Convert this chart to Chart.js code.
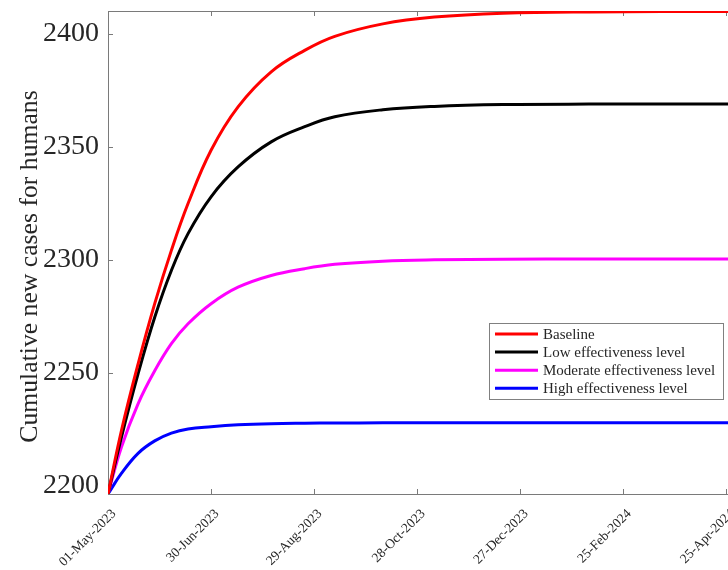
<!DOCTYPE html>
<html>
<head>
<meta charset="utf-8">
<script src="https://cdn.jsdelivr.net/npm/chart.js@4"></script>
<style>
html,body{margin:0;padding:0;background:#fff;overflow:hidden;width:728px;height:570px;}
#wrap{width:745px;height:570px;}
</style>
</head>
<body>
<div id="wrap"><canvas id="c" width="745" height="570"></canvas></div>
<script>
// Days since 01-May-2023 (read positions)
const days = [0,7.8,17.5,27.2,36.9,46.6,60,75.7,95,114.5,132,160,190,230,280,365];
const baseline = [2196.5,2224.5,2254,2280.7,2304.3,2325,2348.6,2367.8,2383.3,2392.8,2399,2404.5,2407.5,2409.2,2409.8,2410];
const lowLevel = [2196.5,2221.6,2249.7,2274.7,2295.4,2311.7,2328,2341.2,2352.3,2359,2363.4,2366.5,2368,2368.8,2369,2369];
const moderateLevel = [2196.5,2217.2,2236.4,2251,2263,2271.8,2280.7,2288,2293.2,2296.2,2298.1,2299.5,2300.1,2300.4,2300.5,2300.5];
const highLevel = [2196.5,2205.6,2214.5,2220,2223.4,2225.3,2226.3,2227.1,2227.6,2227.8,2227.9,2228,2228,2228,2228,2228];
const seriesNames = ['Baseline','Low effectiveness level','Moderate effectiveness level','High effectiveness level'];
const xTickDays = [0,60,120,180,240,300,360];
const xTickLabels = ['01-May-2023','30-Jun-2023','29-Aug-2023','28-Oct-2023','27-Dec-2023','25-Feb-2024','25-Apr-2024'];
const yTicks = [2200,2250,2300,2350,2400];
const yTitle = 'Cumulative new cases for humans';

const toXY = arr => arr.map((v,i)=>({x:days[i], y:v}));
const colors = ['#ff0000','#000000','#ff00ff','#0000ff'];
const allSeries = [baseline, lowLevel, moderateLevel, highLevel];
const FONT = "'Liberation Serif', 'Times New Roman', serif";
const TXT = '#262626';

const framePlugin = {
  id:'frame',
  beforeDatasetsDraw(chart){
    const {ctx, chartArea:a, scales:{x,y}} = chart;
    ctx.save();
    ctx.strokeStyle='#7a7a7a'; ctx.lineWidth=1;
    ctx.strokeRect(Math.round(a.left)+0.5, Math.round(a.top)+0.5, Math.round(a.right-a.left), Math.round(a.bottom-a.top));
    ctx.beginPath();
    x.ticks.forEach(t=>{
      const px=Math.round(x.getPixelForValue(t.value))+0.5;
      ctx.moveTo(px,a.bottom); ctx.lineTo(px,a.bottom-5);
      ctx.moveTo(px,a.top); ctx.lineTo(px,a.top+5);
    });
    y.ticks.forEach(t=>{
      const py=Math.round(y.getPixelForValue(t.value))+0.5;
      ctx.moveTo(a.left,py); ctx.lineTo(a.left+5,py);
      ctx.moveTo(a.right,py); ctx.lineTo(a.right-5,py);
    });
    ctx.stroke();
    // y axis title
    ctx.fillStyle=TXT; ctx.font='25.7px '+FONT;
    ctx.textAlign='center'; ctx.textBaseline='middle';
    ctx.translate(30, (a.top+a.bottom)/2+14);
    ctx.rotate(-Math.PI/2);
    ctx.fillText(yTitle,0,0);
    ctx.restore();
  }
};

const legendPlugin = {
  id:'boxLegend',
  afterDatasetsDraw(chart){
    const {ctx, chartArea:a} = chart;
    const bx=a.left+381, by=a.top+312, bw=234, bh=76;
    ctx.save();
    ctx.fillStyle='#fff'; ctx.fillRect(bx,by,bw,bh);
    ctx.strokeStyle='#808080'; ctx.lineWidth=1;
    ctx.strokeRect(bx+0.5,by+0.5,bw,bh);
    ctx.font='15px '+FONT; ctx.textBaseline='middle'; ctx.textAlign='left';
    seriesNames.forEach((name,i)=>{
      const cy=by+11+i*18.1;
      ctx.strokeStyle=colors[i]; ctx.lineWidth=3;
      ctx.beginPath(); ctx.moveTo(bx+6,cy); ctx.lineTo(bx+49,cy); ctx.stroke();
      ctx.fillStyle=TXT; ctx.fillText(name,bx+54,cy+1);
    });
    ctx.restore();
  }
};

new Chart(document.getElementById('c'),{
  type:'line',
  data:{datasets: allSeries.map((s,i)=>({
    label:seriesNames[i], data:toXY(s), borderColor:colors[i], backgroundColor:colors[i],
    borderWidth:3, pointRadius:0, tension:0.4, fill:false
  }))},
  options:{
    responsive:false, animation:false,
    layout:{padding:{left:0,top:11,right:10,bottom:0}},
    plugins:{legend:{display:false}, tooltip:{enabled:false}},
    scales:{
      x:{type:'linear', min:0, max:365,
        grid:{display:false}, border:{display:false},
        afterBuildTicks:s=>{s.ticks = xTickDays.map(v=>({value:v}));},
        afterFit:s=>{s.height=76; s.paddingLeft=0; s.paddingRight=0;},
        ticks:{autoSkip:false, minRotation:45, maxRotation:45, padding:4, labelOffset:6, color:TXT,
          font:{family:FONT,size:13.5},
          callback:(v)=>{const k=xTickDays.indexOf(v); return k>=0?xTickLabels[k]:'';}}
      },
      y:{type:'linear', min:2196.5, max:2410.2,
        grid:{display:false}, border:{display:false},
        afterBuildTicks:s=>{s.ticks = yTicks.map(v=>({value:v}));},
        afterFit:s=>{s.width=108; s.paddingTop=0; s.paddingBottom=0;},
        ticks:{padding:1, color:TXT, font:{family:FONT,size:28}, callback:v=>String(v)}
      }
    }
  },
  plugins:[framePlugin, legendPlugin]
});
</script>
</body>
</html>
